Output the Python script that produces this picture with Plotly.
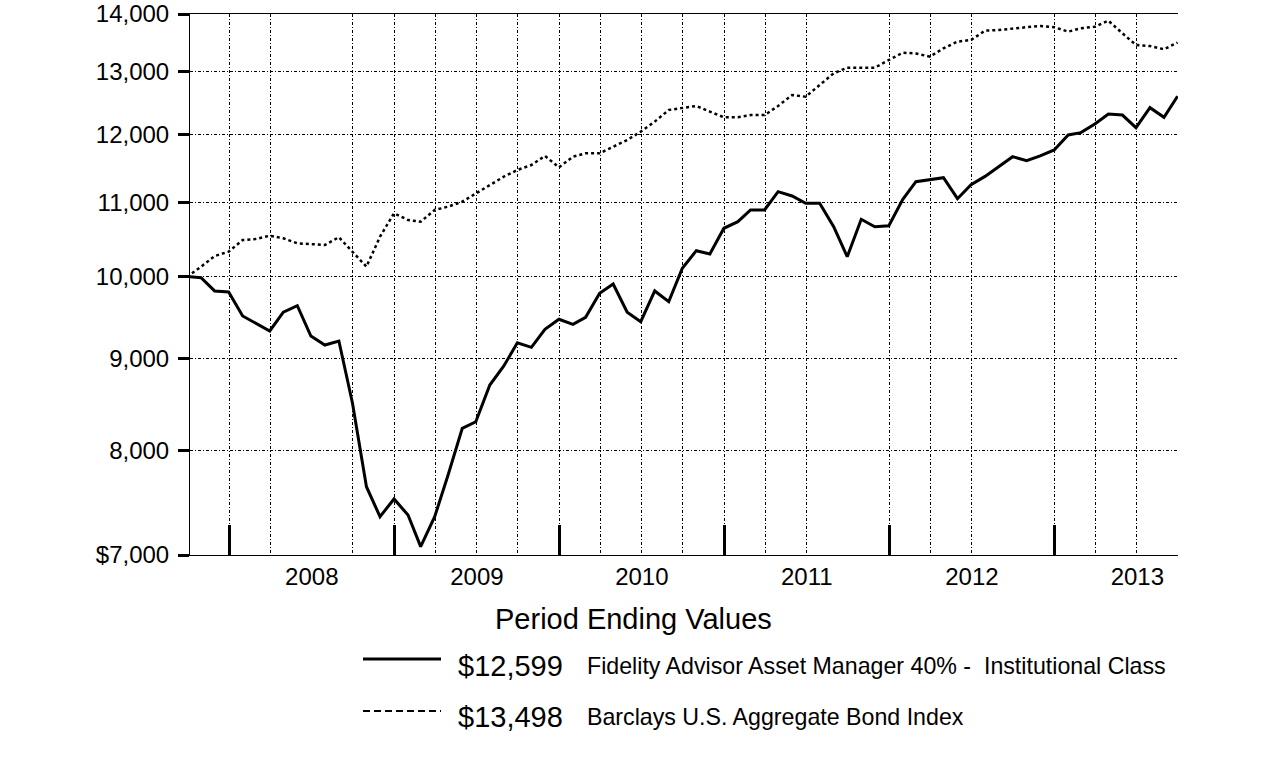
import pandas as pd
import plotly.graph_objects as go

# ---- data (month-end values, Sep 2007 .. Sep 2013) ----
dates = pd.date_range("2007-09-30", "2013-09-30", freq="ME")

fund_values = [10000, 9985, 9818, 9805, 9508, 9419, 9327, 9554, 9634, 9267,
               9161, 9208, 8505, 7640, 7352, 7521, 7368, 7075, 7352, 7760,
               8234, 8303, 8703, 8918, 9188, 9134, 9348, 9468, 9407, 9492,
               9789, 9906, 9554, 9439, 9818, 9684, 10107, 10338, 10294, 10639,
               10729, 10891, 10891, 11150, 11088, 10985, 10985, 10660, 10258, 10762,
               10660, 10674, 11041, 11293, 11328, 11351, 11050, 11250, 11370, 11513,
               11661, 11601, 11672, 11762, 11990, 12026, 12160, 12317, 12300, 12102,
               12417, 12265, 12599]

bond_values = [10000, 10128, 10267, 10325, 10480, 10494, 10538, 10503, 10436, 10430,
               10414, 10517, 10325, 10128, 10525, 10845, 10752, 10729, 10891, 10938,
               11008, 11126, 11245, 11366, 11464, 11537, 11672, 11503, 11661, 11712,
               11712, 11811, 11913, 12041, 12197, 12380, 12407, 12444, 12354, 12265,
               12265, 12299, 12299, 12444, 12620, 12592, 12783, 12976, 13070, 13070,
               13070, 13199, 13323, 13310, 13255, 13398, 13513, 13541, 13704, 13716,
               13746, 13765, 13787, 13765, 13687, 13746, 13775, 13880, 13658, 13455,
               13437, 13381, 13498]

fund_name = "Fidelity Advisor Asset Manager 40% -  Institutional Class"
bond_name = "Barclays U.S. Aggregate Bond Index"

y_tick_values = [7000, 8000, 9000, 10000, 11000, 12000, 13000, 14000]
y_tick_labels = ["$7,000", "8,000", "9,000", "10,000", "11,000", "12,000", "13,000", "14,000"]

first_year_start = "2008-01-01"
grid_dates = ["2008-01-01", "2008-04-01", "2008-10-01",
              "2009-01-01", "2009-04-01", "2009-07-01", "2009-10-01",
              "2010-01-01", "2010-04-01", "2010-07-01", "2010-10-01",
              "2011-01-01", "2011-04-01", "2011-07-01",
              "2012-01-01", "2012-04-01", "2012-07-01",
              "2013-01-01", "2013-04-01", "2013-07-01"]

x_range = ["2007-10-06 12:00", "2013-10-01"]

FONT = "Arial, 'Liberation Sans', sans-serif"

W, H = 1276, 761
# plot area in pixels
L, R, T, B = 190, 1178, 14, 555


def px(x):
    return (x - L) / (R - L)


def py(y):
    return (B - y) / (B - T)


fig = go.Figure()
fig.add_trace(go.Scatter(x=dates, y=bond_values, mode="lines", name=bond_name,
                         line=dict(color="black", width=2.5, dash="3px,3px"),
                         xaxis="x2", showlegend=False))
fig.add_trace(go.Scatter(x=dates, y=fund_values, mode="lines", name=fund_name,
                         line=dict(color="black", width=3), showlegend=False))

grid_style = dict(gridcolor="black", gridwidth=1, griddash="3px,2px,1px,2px")

fig.update_layout(
    width=W, height=H,
    margin=dict(l=L, r=W - R, t=T, b=H - B, pad=0),
    paper_bgcolor="white", plot_bgcolor="white",
    font=dict(family=FONT, color="black"),
    xaxis=dict(type="date", range=x_range, showgrid=False, automargin=False,
               tickmode="linear", tick0=first_year_start, dtick="M12",
               tickformat="%Y", ticklabelmode="period",
               ticks="inside", ticklen=30, tickwidth=3,
               tickcolor="black", tickfont=dict(size=24, family=FONT),
               showline=True, linecolor="black", linewidth=1, mirror=True,
               zeroline=False),
    xaxis2=dict(type="date", range=x_range, overlaying="x", matches="x", anchor="y",
                side="bottom", tickmode="array", tickvals=grid_dates,
                showticklabels=False, ticks="", automargin=False,
                showgrid=True, showline=False, zeroline=False, **grid_style),
    yaxis=dict(type="log", range=[4 - 0.15490196, 4.14612804], automargin=False,
               tickvals=y_tick_values, ticktext=y_tick_labels,
               ticks="outside", ticklen=11, tickwidth=3, tickcolor="black",
               tickfont=dict(size=24, family=FONT), ticklabelstandoff=4,
               showline=True, linecolor="black", linewidth=1,
               showgrid=True, zeroline=False, **grid_style),
)

annotations = [
    dict(text="Period Ending Values", x=px(633.5), y=py(619), xanchor="center",
         yanchor="middle", font=dict(size=29)),
    dict(text=f"${fund_values[-1]:,}", x=px(456), y=py(666), xanchor="left",
         yanchor="middle", font=dict(size=29)),
    dict(text=fund_name, x=px(585), y=py(666), xanchor="left",
         yanchor="middle", font=dict(size=23.2)),
    dict(text=f"${bond_values[-1]:,}", x=px(456), y=py(717), xanchor="left",
         yanchor="middle", font=dict(size=29)),
    dict(text=bond_name, x=px(585), y=py(717), xanchor="left",
         yanchor="middle", font=dict(size=23.2)),
]
for a in annotations:
    a.update(xref="paper", yref="paper", showarrow=False)
    a["font"].update(family=FONT, color="black")
fig.update_layout(annotations=annotations)

fig.add_shape(type="line", xref="paper", yref="paper", x0=px(363), x1=px(441),
              y0=py(659), y1=py(659), line=dict(color="black", width=3))
fig.add_shape(type="line", xref="paper", yref="paper", x0=px(363), x1=px(441),
              y0=py(711), y1=py(711), line=dict(color="black", width=2, dash="7px,4px"))

fig.write_html("out.html", config={"displayModeBar": False},
               post_script="document.body.style.margin='0';document.body.style.overflow='hidden';")
